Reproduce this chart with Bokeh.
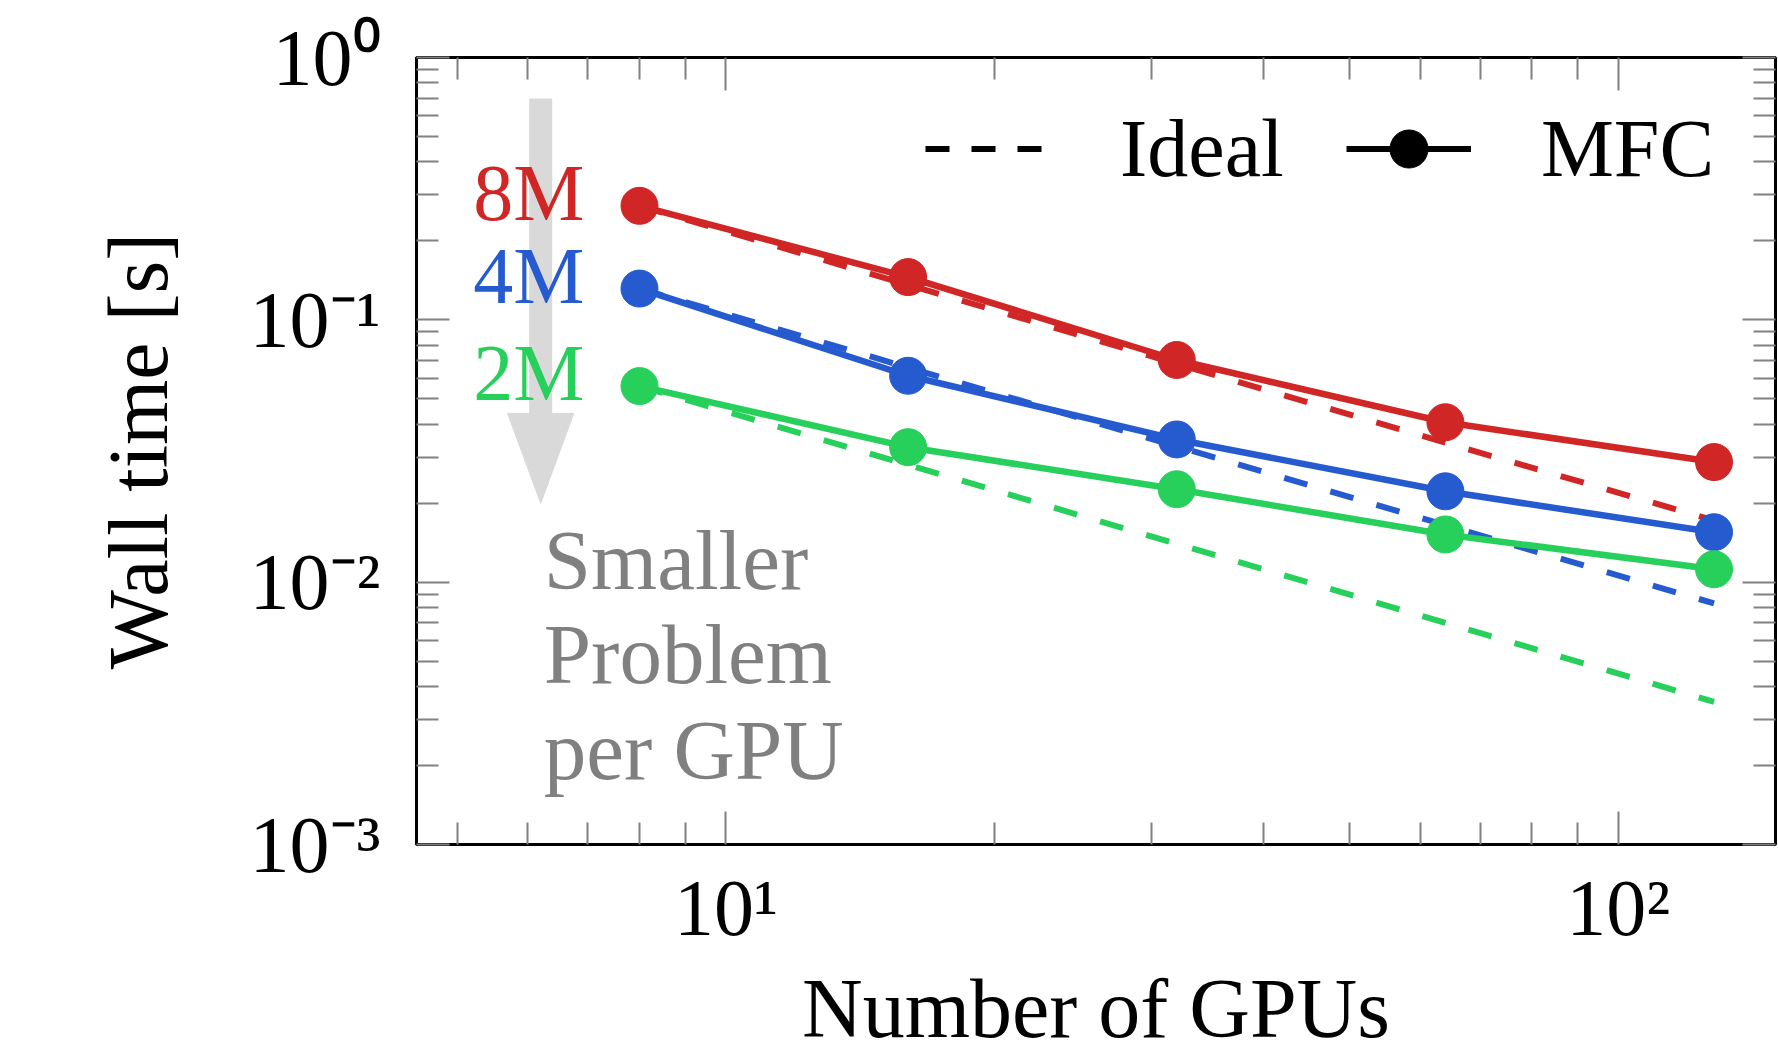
import numpy as np
from bokeh.plotting import figure
from bokeh.models import (Range1d, LogAxis, FixedTicker, CustomJSTickFormatter, Legend,
                          LegendItem, Label, ColumnDataSource)
from bokeh.core.properties import value
from bokeh.embed import file_html
from bokeh.resources import INLINE

# ---------------- data ----------------
gpus = [8, 16, 32, 64, 128]
size_labels = ["8M", "4M", "2M"]
mfc_8m = [0.272, 0.1455, 0.0703, 0.0407, 0.0287]
mfc_4m = [0.1316, 0.0612, 0.0350, 0.0222, 0.0155]
mfc_2m = [0.0559, 0.0327, 0.0226, 0.0152, 0.0112]
ideal_8m = [0.272, 0.136, 0.068, 0.034, 0.0172]
ideal_4m = [0.1316, 0.0658, 0.0329, 0.0165, 0.0083]
ideal_2m = [0.0559, 0.0280, 0.0140, 0.0070, 0.0035]
x_major = [10, 100]
x_minor = [5, 6, 7, 8, 9, 20, 30, 40, 50, 60, 70, 80, 90]
y_major = [0.001, 0.01, 0.1, 1.0]
y_minor = [m * d for d in [0.001, 0.01, 0.1] for m in range(2, 10)]
note_lines = ["Smaller", "Problem", "per GPU"]
x_title = "Number of GPUs"
y_title = "Wall time [s]"

colors = ["#D02626", "#265BD0", "#26D05B"]
FONT = "Liberation Serif"
TICK_GRAY = "#808080"
NAN = float("nan")

p = figure(width=1778, height=1059, x_axis_type="log", y_axis_type="log",
           x_range=Range1d(4.5, 150), y_range=Range1d(1e-3, 1.0),
           output_backend="svg", toolbar_location=None,
           min_border_left=416, min_border_right=3, min_border_top=57, min_border_bottom=215)
p.xgrid.visible = False
p.ygrid.visible = False
p.outline_line_color = "black"
p.outline_line_width = 3
p.background_fill_color = "white"

fmt_code = """
const sup = {"-": "\u207B", "0": "\u2070", "1": "\u00B9", "2": "\u00B2", "3": "\u00B3",
             "4": "\u2074", "5": "\u2075", "6": "\u2076", "7": "\u2077", "8": "\u2078", "9": "\u2079"};
const e = Math.round(Math.log10(tick));
return "10" + String(e).split("").map(c => sup[c]).join("");
"""
xt = FixedTicker(ticks=x_major, minor_ticks=x_minor)
yt = FixedTicker(ticks=y_major, minor_ticks=y_minor)

def style_axis(ax):
    ax.axis_line_color = "black"
    ax.axis_line_width = 3
    ax.major_tick_in = 33
    ax.major_tick_out = 0
    ax.minor_tick_in = 22
    ax.minor_tick_out = 0
    ax.major_tick_line_color = TICK_GRAY
    ax.major_tick_line_width = 2
    ax.minor_tick_line_color = TICK_GRAY
    ax.minor_tick_line_width = 2

xa = p.xaxis[0]
ya = p.yaxis[0]
xa.ticker = xt
ya.ticker = yt
for ax in (xa, ya):
    style_axis(ax)
    ax.formatter = CustomJSTickFormatter(code=fmt_code)
    ax.major_label_text_font = FONT
    ax.major_label_text_font_size = "80px"
    ax.major_label_text_color = "black"
    ax.axis_label_text_font = FONT
    ax.axis_label_text_font_size = "84px"
    ax.axis_label_text_font_style = "normal"
    ax.axis_label_text_color = "black"
xa.axis_label = x_title
ya.axis_label = y_title
xa.major_label_standoff = 19
xa.axis_label_standoff = 7
ya.major_label_standoff = 36
ya.axis_label_standoff = 62

# mirrored tick axes on top and right
for loc, tk in (("above", xt), ("right", yt)):
    ax = LogAxis(ticker=tk, formatter=CustomJSTickFormatter(code="return ''"))
    style_axis(ax)
    ax.axis_line_color = None
    ax.major_label_standoff = 0
    ax.major_label_text_font_size = "0px"
    p.add_layout(ax, loc)

# grey arrow (annotation)
arrow_x = 6.2
shaft_top, head_base, head_tip = 0.698, 0.0440, 0.01995
head_hw = 0.0371
p.line([arrow_x, arrow_x], [shaft_top, head_base], line_color="#D9D9D9", line_width=23)
p.patch([arrow_x * 10 ** (-head_hw), arrow_x * 10 ** head_hw, arrow_x],
        [head_base, head_base, head_tip], fill_color="#D9D9D9", line_color="#D9D9D9", line_width=1)

# series
series = [(mfc_8m, ideal_8m), (mfc_4m, ideal_4m), (mfc_2m, ideal_2m)]
for (mfc, ideal), c in zip(series, colors):
    p.line(gpus, ideal, line_color=c, line_width=6, line_dash="24 24")
for (mfc, ideal), c in zip(series, colors):
    p.line(gpus, mfc, line_color=c, line_width=6.5)
    p.scatter(gpus, mfc, size=37, fill_color=c, line_color=c)

lab_src = ColumnDataSource(dict(x=[gpus[0]] * 3, y=[mfc_8m[0], mfc_4m[0], mfc_2m[0]],
                                text=size_labels, color=colors))
p.text(x="x", y="y", text="text", source=lab_src, text_color="color",
       text_align="right", text_baseline="middle", x_offset=-55, y_offset=-13,
       text_font=value(FONT), text_font_size="80px")

note_x = 6.25
note_y = [0.0121, 0.0053, 0.0023]
for t, yy in zip(note_lines, note_y):
    p.add_layout(Label(x=note_x, y=yy, text=t, text_font=FONT, text_font_size="85px",
                       text_color="#808080", text_baseline="alphabetic", text_align="left"))

# legend (proxy renderers carry no visible data)
ideal_leg = p.line([NAN], [NAN], line_color="black", line_width=6, line_dash="24 22")
mfc_leg_line = p.line([NAN], [NAN], line_color="black", line_width=6)
mfc_leg_pt = p.scatter([NAN], [NAN], size=38, fill_color="black", line_color="black")
legend = Legend(items=[LegendItem(label="Ideal", renderers=[ideal_leg]),
                       LegendItem(label="MFC", renderers=[mfc_leg_line, mfc_leg_pt])],
                location=(509, 648), orientation="horizontal",
                glyph_width=125, glyph_height=95, label_standoff=70, spacing=62,
                padding=0, margin=0, border_line_alpha=0, background_fill_alpha=0,
                label_text_font=FONT, label_text_font_size="82px", label_text_color="black")
p.add_layout(legend)

open("out.html", "w").write(file_html(p, INLINE))
